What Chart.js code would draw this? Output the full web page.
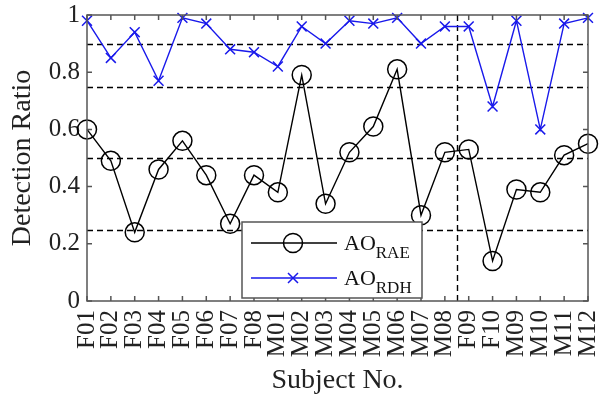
<!DOCTYPE html>
<html>
<head>
<meta charset="utf-8">
<script src="https://cdn.jsdelivr.net/npm/chart.js@4.4.1/dist/chart.umd.min.js"></script>
<style>
  html, body { margin: 0; padding: 0; background: #fff; }
  #wrap { width: 608px; height: 397px; }
</style>
</head>
<body>
<div id="wrap"><canvas id="c" width="608" height="397"></canvas></div>
<script>
// subjects on the x axis
var subjects = ['F01','F02','F03','F04','F05','F06','F07','F08',
                'M01','M02','M03','M04','M05','M06','M07','M08',
                'F09','F10','M09','M10','M11','M12'];

// detection ratios
var aoRAE = [0.60,0.49,0.24,0.46,0.56,0.44,0.27,0.44,
             0.38,0.79,0.34,0.52,0.61,0.81,0.30,0.52,
             0.53,0.14,0.39,0.38,0.51,0.55];
var aoRDH = [0.98,0.85,0.94,0.77,0.99,0.97,0.88,0.87,
             0.82,0.96,0.90,0.98,0.97,0.99,0.90,0.96,
             0.96,0.68,0.98,0.60,0.97,0.99];

var yTicks = [0, 0.2, 0.4, 0.6, 0.8, 1];
var refLevels = [0.25, 0.5, 0.75, 0.9];   // dashed horizontal lines
var splitAt = 15.5;                        // dashed vertical line between M08 and F09

var serif = '"Liberation Serif", "Times New Roman", serif';
var frameCol = '#555';
var blue = 'rgb(25,25,235)';

var framePlugin = {
    id: 'frame',
    beforeDatasetsDraw: function(chart){
        var ctx = chart.ctx, a = chart.chartArea;
        var x = chart.scales.x, y = chart.scales.y;
        ctx.save();
        ctx.strokeStyle = '#000';
        ctx.lineWidth = 1.4;
        ctx.setLineDash([6,4]);
        refLevels.forEach(function(v){
            var py = Math.round(y.getPixelForValue(v)) + 0.5;
            ctx.beginPath(); ctx.moveTo(a.left, py); ctx.lineTo(a.right, py); ctx.stroke();
        });
        var px = Math.round(x.getPixelForValue(splitAt)) + 0.5;
        ctx.beginPath(); ctx.moveTo(px, a.top); ctx.lineTo(px, a.bottom); ctx.stroke();
        ctx.restore();
    },
    afterDatasetsDraw: function(chart){
        var ctx = chart.ctx, a = chart.chartArea;
        var x = chart.scales.x, y = chart.scales.y;
        ctx.save();
        ctx.strokeStyle = frameCol;
        ctx.lineWidth = 1.5;
        ctx.strokeRect(a.left, a.top, a.right - a.left, a.bottom - a.top);
        var t = 5;
        ctx.beginPath();
        for(var i=0; i<subjects.length; i++){
            var px = x.getPixelForValue(i);
            ctx.moveTo(px, a.bottom); ctx.lineTo(px, a.bottom - t);
            ctx.moveTo(px, a.top); ctx.lineTo(px, a.top + t);
        }
        yTicks.forEach(function(v){
            var py = y.getPixelForValue(v);
            ctx.moveTo(a.left, py); ctx.lineTo(a.left + t, py);
            ctx.moveTo(a.right, py); ctx.lineTo(a.right - t, py);
        });
        ctx.stroke();
        ctx.restore();
    },
    afterDraw: function(chart){
        // legend box inside the plot, with subscripted names
        var ctx = chart.ctx;
        var bx = 242, by = 222, bw = 180, bh = 76;
        ctx.save();
        ctx.fillStyle = '#fff';
        ctx.fillRect(bx, by, bw, bh);
        ctx.strokeStyle = frameCol;
        ctx.lineWidth = 1.5;
        ctx.strokeRect(bx, by, bw, bh);

        var rows = [
            {y: 243, col: '#000', sub: 'RAE', marker: 'circle'},
            {y: 278, col: blue, sub: 'RDH', marker: 'cross'}
        ];
        rows.forEach(function(r){
            ctx.strokeStyle = r.col;
            ctx.lineWidth = 1.5;
            ctx.beginPath(); ctx.moveTo(251, r.y); ctx.lineTo(337, r.y); ctx.stroke();
            ctx.beginPath();
            if(r.marker === 'circle'){
                ctx.arc(293, r.y, 9.5, 0, Math.PI*2);
            } else {
                ctx.moveTo(288, r.y-5); ctx.lineTo(298, r.y+5);
                ctx.moveTo(288, r.y+5); ctx.lineTo(298, r.y-5);
            }
            ctx.stroke();
            ctx.fillStyle = '#111';
            ctx.textBaseline = 'alphabetic';
            ctx.textAlign = 'left';
            ctx.font = '22px ' + serif;
            ctx.fillText('AO', 344, r.y + 7);
            var w = ctx.measureText('AO').width;
            ctx.font = '17px ' + serif;
            ctx.fillText(r.sub, 344 + w, r.y + 15);
        });
        ctx.restore();
    }
};

new Chart(document.getElementById('c'), {
    type: 'line',
    data: {
        labels: subjects,
        datasets: [
            {
                label: 'AO_RAE',
                data: aoRAE,
                borderColor: '#000',
                borderWidth: 1.4,
                pointStyle: 'circle',
                pointRadius: 9.5,
                pointBorderWidth: 1.5,
                pointBorderColor: '#000',
                pointBackgroundColor: 'rgba(0,0,0,0)',
                tension: 0,
                clip: false
            },
            {
                label: 'AO_RDH',
                data: aoRDH,
                borderColor: blue,
                borderWidth: 1.4,
                pointStyle: 'crossRot',
                pointRadius: 7,
                pointBorderWidth: 1.5,
                pointBorderColor: blue,
                pointBackgroundColor: blue,
                tension: 0,
                clip: false
            }
        ]
    },
    options: {
        responsive: false,
        animation: false,
        layout: { padding: { top: 15, right: 20, left: 0, bottom: 0 } },
        plugins: {
            legend: { display: false },
            tooltip: { enabled: false }
        },
        scales: {
            x: {
                type: 'category',
                offset: false,
                grid: { display: false, drawTicks: false },
                border: { display: false },
                ticks: {
                    autoSkip: false,
                    minRotation: 90,
                    maxRotation: 90,
                    padding: 9,
                    color: '#222',
                    font: { family: serif, size: 25 }
                },
                title: {
                    display: true,
                    text: 'Subject No.',
                    color: '#222',
                    font: { family: serif, size: 28 },
                    padding: { top: 0, bottom: 0 }
                },
                afterFit: function(s){
                    s.height = 96;
                    s.paddingLeft = 0; s.paddingRight = 0;
                }
            },
            y: {
                min: 0,
                max: 1,
                grid: { display: false, drawTicks: false },
                border: { display: false },
                afterBuildTicks: function(s){
                    s.ticks = yTicks.map(function(v){ return {value: v}; });
                },
                ticks: {
                    padding: 7,
                    color: '#222',
                    font: { family: serif, size: 25 },
                    callback: function(v){ return String(v); }
                },
                title: {
                    display: true,
                    text: 'Detection Ratio',
                    color: '#222',
                    font: { family: serif, size: 28 },
                    padding: { top: 6, bottom: 0 }
                },
                afterFit: function(s){
                    s.width = 87;
                    s.paddingTop = 0; s.paddingBottom = 0;
                }
            }
        }
    },
    plugins: [framePlugin]
});
</script>
</body>
</html>
